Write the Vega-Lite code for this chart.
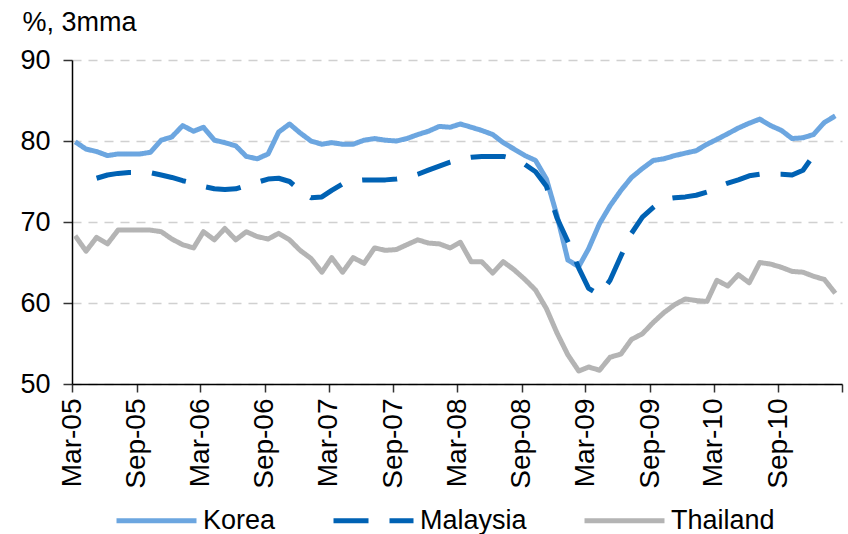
{
"$schema":"https://vega.github.io/schema/vega-lite/v6.json",
"width":770,"height":324,
"autosize":{"type":"none"},
"padding":{"left":72,"top":60,"right":6,"bottom":150},
"background":"white",
"config":{"view":{"stroke":null},"font":"Liberation Sans"},
"data":{"values":[
{"month":"2005-03-10","country":"Korea","value":79.9},
{"month":"2005-04-10","country":"Korea","value":79.0},
{"month":"2005-05-10","country":"Korea","value":78.7},
{"month":"2005-06-10","country":"Korea","value":78.2},
{"month":"2005-07-10","country":"Korea","value":78.4},
{"month":"2005-08-10","country":"Korea","value":78.4},
{"month":"2005-09-10","country":"Korea","value":78.4},
{"month":"2005-10-10","country":"Korea","value":78.6},
{"month":"2005-11-10","country":"Korea","value":80.1},
{"month":"2005-12-10","country":"Korea","value":80.5},
{"month":"2006-01-10","country":"Korea","value":81.9},
{"month":"2006-02-10","country":"Korea","value":81.2},
{"month":"2006-03-10","country":"Korea","value":81.7},
{"month":"2006-04-10","country":"Korea","value":80.1},
{"month":"2006-05-10","country":"Korea","value":79.8},
{"month":"2006-06-10","country":"Korea","value":79.4},
{"month":"2006-07-10","country":"Korea","value":78.1},
{"month":"2006-08-10","country":"Korea","value":77.8},
{"month":"2006-09-10","country":"Korea","value":78.4},
{"month":"2006-10-10","country":"Korea","value":81.1},
{"month":"2006-11-10","country":"Korea","value":82.1},
{"month":"2006-12-10","country":"Korea","value":81.0},
{"month":"2007-01-10","country":"Korea","value":80.0},
{"month":"2007-02-10","country":"Korea","value":79.6},
{"month":"2007-03-10","country":"Korea","value":79.8},
{"month":"2007-04-10","country":"Korea","value":79.6},
{"month":"2007-05-10","country":"Korea","value":79.6},
{"month":"2007-06-10","country":"Korea","value":80.1},
{"month":"2007-07-10","country":"Korea","value":80.3},
{"month":"2007-08-10","country":"Korea","value":80.1},
{"month":"2007-09-10","country":"Korea","value":80.0},
{"month":"2007-10-10","country":"Korea","value":80.3},
{"month":"2007-11-10","country":"Korea","value":80.8},
{"month":"2007-12-10","country":"Korea","value":81.2},
{"month":"2008-01-10","country":"Korea","value":81.8},
{"month":"2008-02-10","country":"Korea","value":81.7},
{"month":"2008-03-10","country":"Korea","value":82.1},
{"month":"2008-04-10","country":"Korea","value":81.7},
{"month":"2008-05-10","country":"Korea","value":81.3},
{"month":"2008-06-10","country":"Korea","value":80.8},
{"month":"2008-07-10","country":"Korea","value":79.8},
{"month":"2008-08-10","country":"Korea","value":79.0},
{"month":"2008-09-10","country":"Korea","value":78.2},
{"month":"2008-10-10","country":"Korea","value":77.6},
{"month":"2008-11-10","country":"Korea","value":75.3},
{"month":"2008-12-10","country":"Korea","value":70.8},
{"month":"2009-01-10","country":"Korea","value":65.3},
{"month":"2009-02-10","country":"Korea","value":64.5},
{"month":"2009-03-10","country":"Korea","value":66.7},
{"month":"2009-04-10","country":"Korea","value":69.8},
{"month":"2009-05-10","country":"Korea","value":72.0},
{"month":"2009-06-10","country":"Korea","value":73.9},
{"month":"2009-07-10","country":"Korea","value":75.5},
{"month":"2009-08-10","country":"Korea","value":76.6},
{"month":"2009-09-10","country":"Korea","value":77.6},
{"month":"2009-10-10","country":"Korea","value":77.8},
{"month":"2009-11-10","country":"Korea","value":78.2},
{"month":"2009-12-10","country":"Korea","value":78.5},
{"month":"2010-01-10","country":"Korea","value":78.8},
{"month":"2010-02-10","country":"Korea","value":79.6},
{"month":"2010-03-10","country":"Korea","value":80.2},
{"month":"2010-04-10","country":"Korea","value":80.9},
{"month":"2010-05-10","country":"Korea","value":81.6},
{"month":"2010-06-10","country":"Korea","value":82.2},
{"month":"2010-07-10","country":"Korea","value":82.7},
{"month":"2010-08-10","country":"Korea","value":81.9},
{"month":"2010-09-10","country":"Korea","value":81.3},
{"month":"2010-10-10","country":"Korea","value":80.3},
{"month":"2010-11-10","country":"Korea","value":80.4},
{"month":"2010-12-10","country":"Korea","value":80.8},
{"month":"2011-01-10","country":"Korea","value":82.3},
{"month":"2011-02-10","country":"Korea","value":83.1},
{"month":"2005-05-10","country":"Malaysia","value":75.4},
{"month":"2005-06-10","country":"Malaysia","value":75.8},
{"month":"2005-07-10","country":"Malaysia","value":76.0},
{"month":"2005-08-10","country":"Malaysia","value":76.1},
{"month":"2005-09-10","country":"Malaysia","value":76.1},
{"month":"2005-10-10","country":"Malaysia","value":76.1},
{"month":"2005-11-10","country":"Malaysia","value":75.8},
{"month":"2005-12-10","country":"Malaysia","value":75.5},
{"month":"2006-01-10","country":"Malaysia","value":75.1},
{"month":"2006-02-10","country":"Malaysia","value":74.8},
{"month":"2006-03-10","country":"Malaysia","value":74.4},
{"month":"2006-04-10","country":"Malaysia","value":74.1},
{"month":"2006-05-10","country":"Malaysia","value":74.0},
{"month":"2006-06-10","country":"Malaysia","value":74.1},
{"month":"2006-07-10","country":"Malaysia","value":74.5},
{"month":"2006-08-10","country":"Malaysia","value":74.9},
{"month":"2006-09-10","country":"Malaysia","value":75.3},
{"month":"2006-10-10","country":"Malaysia","value":75.4},
{"month":"2006-11-10","country":"Malaysia","value":75.0},
{"month":"2006-12-10","country":"Malaysia","value":73.9},
{"month":"2007-01-10","country":"Malaysia","value":73.0},
{"month":"2007-02-10","country":"Malaysia","value":73.1},
{"month":"2007-03-10","country":"Malaysia","value":73.9},
{"month":"2007-04-10","country":"Malaysia","value":74.7},
{"month":"2007-05-10","country":"Malaysia","value":75.1},
{"month":"2007-06-10","country":"Malaysia","value":75.2},
{"month":"2007-07-10","country":"Malaysia","value":75.2},
{"month":"2007-08-10","country":"Malaysia","value":75.2},
{"month":"2007-09-10","country":"Malaysia","value":75.3},
{"month":"2007-10-10","country":"Malaysia","value":75.5},
{"month":"2007-11-10","country":"Malaysia","value":75.9},
{"month":"2007-12-10","country":"Malaysia","value":76.4},
{"month":"2008-01-10","country":"Malaysia","value":76.9},
{"month":"2008-02-10","country":"Malaysia","value":77.4},
{"month":"2008-03-10","country":"Malaysia","value":77.8},
{"month":"2008-04-10","country":"Malaysia","value":78.0},
{"month":"2008-05-10","country":"Malaysia","value":78.1},
{"month":"2008-06-10","country":"Malaysia","value":78.1},
{"month":"2008-07-10","country":"Malaysia","value":78.1},
{"month":"2008-08-10","country":"Malaysia","value":77.8},
{"month":"2008-09-10","country":"Malaysia","value":77.1},
{"month":"2008-10-10","country":"Malaysia","value":76.2},
{"month":"2008-11-10","country":"Malaysia","value":74.4},
{"month":"2008-12-10","country":"Malaysia","value":70.5},
{"month":"2009-01-10","country":"Malaysia","value":67.6},
{"month":"2009-02-10","country":"Malaysia","value":64.3},
{"month":"2009-03-10","country":"Malaysia","value":61.8},
{"month":"2009-04-10","country":"Malaysia","value":61.0},
{"month":"2009-05-10","country":"Malaysia","value":62.8},
{"month":"2009-06-10","country":"Malaysia","value":65.8},
{"month":"2009-07-10","country":"Malaysia","value":68.6},
{"month":"2009-08-10","country":"Malaysia","value":70.6},
{"month":"2009-09-10","country":"Malaysia","value":71.8},
{"month":"2009-10-10","country":"Malaysia","value":72.8},
{"month":"2009-11-10","country":"Malaysia","value":73.0},
{"month":"2009-12-10","country":"Malaysia","value":73.1},
{"month":"2010-01-10","country":"Malaysia","value":73.3},
{"month":"2010-02-10","country":"Malaysia","value":73.7},
{"month":"2010-03-10","country":"Malaysia","value":74.3},
{"month":"2010-04-10","country":"Malaysia","value":74.8},
{"month":"2010-05-10","country":"Malaysia","value":75.2},
{"month":"2010-06-10","country":"Malaysia","value":75.7},
{"month":"2010-07-10","country":"Malaysia","value":75.9},
{"month":"2010-08-10","country":"Malaysia","value":75.9},
{"month":"2010-09-10","country":"Malaysia","value":75.9},
{"month":"2010-10-10","country":"Malaysia","value":75.8},
{"month":"2010-11-10","country":"Malaysia","value":76.4},
{"month":"2010-12-10","country":"Malaysia","value":78.2},
{"month":"2005-03-10","country":"Thailand","value":68.3},
{"month":"2005-04-10","country":"Thailand","value":66.4},
{"month":"2005-05-10","country":"Thailand","value":68.1},
{"month":"2005-06-10","country":"Thailand","value":67.3},
{"month":"2005-07-10","country":"Thailand","value":69.0},
{"month":"2005-08-10","country":"Thailand","value":69.0},
{"month":"2005-09-10","country":"Thailand","value":69.0},
{"month":"2005-10-10","country":"Thailand","value":69.0},
{"month":"2005-11-10","country":"Thailand","value":68.8},
{"month":"2005-12-10","country":"Thailand","value":67.9},
{"month":"2006-01-10","country":"Thailand","value":67.2},
{"month":"2006-02-10","country":"Thailand","value":66.8},
{"month":"2006-03-10","country":"Thailand","value":68.8},
{"month":"2006-04-10","country":"Thailand","value":67.8},
{"month":"2006-05-10","country":"Thailand","value":69.2},
{"month":"2006-06-10","country":"Thailand","value":67.8},
{"month":"2006-07-10","country":"Thailand","value":68.8},
{"month":"2006-08-10","country":"Thailand","value":68.2},
{"month":"2006-09-10","country":"Thailand","value":67.9},
{"month":"2006-10-10","country":"Thailand","value":68.6},
{"month":"2006-11-10","country":"Thailand","value":67.8},
{"month":"2006-12-10","country":"Thailand","value":66.5},
{"month":"2007-01-10","country":"Thailand","value":65.5},
{"month":"2007-02-10","country":"Thailand","value":63.8},
{"month":"2007-03-10","country":"Thailand","value":65.6},
{"month":"2007-04-10","country":"Thailand","value":63.8},
{"month":"2007-05-10","country":"Thailand","value":65.6},
{"month":"2007-06-10","country":"Thailand","value":64.9},
{"month":"2007-07-10","country":"Thailand","value":66.8},
{"month":"2007-08-10","country":"Thailand","value":66.5},
{"month":"2007-09-10","country":"Thailand","value":66.6},
{"month":"2007-10-10","country":"Thailand","value":67.2},
{"month":"2007-11-10","country":"Thailand","value":67.8},
{"month":"2007-12-10","country":"Thailand","value":67.4},
{"month":"2008-01-10","country":"Thailand","value":67.3},
{"month":"2008-02-10","country":"Thailand","value":66.8},
{"month":"2008-03-10","country":"Thailand","value":67.5},
{"month":"2008-04-10","country":"Thailand","value":65.1},
{"month":"2008-05-10","country":"Thailand","value":65.1},
{"month":"2008-06-10","country":"Thailand","value":63.7},
{"month":"2008-07-10","country":"Thailand","value":65.1},
{"month":"2008-08-10","country":"Thailand","value":64.1},
{"month":"2008-09-10","country":"Thailand","value":62.9},
{"month":"2008-10-10","country":"Thailand","value":61.6},
{"month":"2008-11-10","country":"Thailand","value":59.3},
{"month":"2008-12-10","country":"Thailand","value":56.3},
{"month":"2009-01-10","country":"Thailand","value":53.6},
{"month":"2009-02-10","country":"Thailand","value":51.6},
{"month":"2009-03-10","country":"Thailand","value":52.1},
{"month":"2009-04-10","country":"Thailand","value":51.7},
{"month":"2009-05-10","country":"Thailand","value":53.3},
{"month":"2009-06-10","country":"Thailand","value":53.7},
{"month":"2009-07-10","country":"Thailand","value":55.5},
{"month":"2009-08-10","country":"Thailand","value":56.2},
{"month":"2009-09-10","country":"Thailand","value":57.6},
{"month":"2009-10-10","country":"Thailand","value":58.8},
{"month":"2009-11-10","country":"Thailand","value":59.8},
{"month":"2009-12-10","country":"Thailand","value":60.5},
{"month":"2010-01-10","country":"Thailand","value":60.3},
{"month":"2010-02-10","country":"Thailand","value":60.2},
{"month":"2010-03-10","country":"Thailand","value":62.8},
{"month":"2010-04-10","country":"Thailand","value":62.1},
{"month":"2010-05-10","country":"Thailand","value":63.5},
{"month":"2010-06-10","country":"Thailand","value":62.5},
{"month":"2010-07-10","country":"Thailand","value":65.0},
{"month":"2010-08-10","country":"Thailand","value":64.8},
{"month":"2010-09-10","country":"Thailand","value":64.4},
{"month":"2010-10-10","country":"Thailand","value":63.9},
{"month":"2010-11-10","country":"Thailand","value":63.8},
{"month":"2010-12-10","country":"Thailand","value":63.3},
{"month":"2011-01-10","country":"Thailand","value":62.9},
{"month":"2011-02-10","country":"Thailand","value":61.2}
]},
"mark":{"type":"line","strokeWidth":5,"strokeJoin":"round","strokeCap":"butt"},
"encoding":{
"x":{"field":"month","type":"temporal",
 "scale":{"type":"utc","domain":[{"year":2005,"month":3,"date":1,"utc":true},{"year":2011,"month":3,"date":1,"utc":true}]},
 "axis":{"title":null,"grid":false,
  "values":[{"year":2005,"month":3,"date":1,"utc":true},{"year":2005,"month":9,"date":1,"utc":true},{"year":2006,"month":3,"date":1,"utc":true},{"year":2006,"month":9,"date":1,"utc":true},{"year":2007,"month":3,"date":1,"utc":true},{"year":2007,"month":9,"date":1,"utc":true},{"year":2008,"month":3,"date":1,"utc":true},{"year":2008,"month":9,"date":1,"utc":true},{"year":2009,"month":3,"date":1,"utc":true},{"year":2009,"month":9,"date":1,"utc":true},{"year":2010,"month":3,"date":1,"utc":true},{"year":2010,"month":9,"date":1,"utc":true},{"year":2011,"month":3,"date":1,"utc":true}],
  "labelExpr":"utcyear(datum.value) >= 2011 ? '' : utcFormat(datum.value, '%b-%y')",
  "labelAngle":-90,"labelAlign":"right","labelBaseline":"middle","labelFontSize":28,"labelColor":"#000000","labelPadding":6,
  "labelOverlap":false,"labelFlush":false,"labelBound":false,
  "tickSize":8,"tickColor":"#333333","tickWidth":1.5,"domainColor":"#000000","domainWidth":1.5}},
"y":{"field":"value","type":"quantitative",
 "scale":{"domain":[50,90],"nice":false,"zero":false},
 "axis":{"values":[50,60,70,80,90],"title":"%, 3mma","titleAngle":0,"titleAlign":"left","titleBaseline":"alphabetic","titleX":-50,"titleY":-30,"titleFontSize":27,"titleFontWeight":"normal","titleColor":"#000000",
  "labelFontSize":27,"labelColor":"#000000","labelPadding":13,"tickSize":9,"tickColor":"#333333","tickWidth":1.5,"domainColor":"#000000","domainWidth":1.5,
  "grid":true,"gridDash":[9,7],"gridColor":"#D0D0D0","gridWidth":1.5}},
"color":{"field":"country","type":"nominal",
 "scale":{"domain":["Korea","Malaysia","Thailand"],"range":["#6CA6E0","#0062B4","#B4B4B4"]},
 "legend":{"orient":"none","legendX":42,"legendY":418,"direction":"horizontal","title":null,"labelFontSize":27,"labelColor":"#000000","symbolType":"stroke","symbolSize":6400,"symbolStrokeWidth":5,"labelOffset":4,"columnPadding":47}},
"strokeDash":{"field":"country","type":"nominal",
 "scale":{"domain":["Korea","Malaysia","Thailand"],"range":[[1,0],[35,21],[1,0]]}}
}
}
